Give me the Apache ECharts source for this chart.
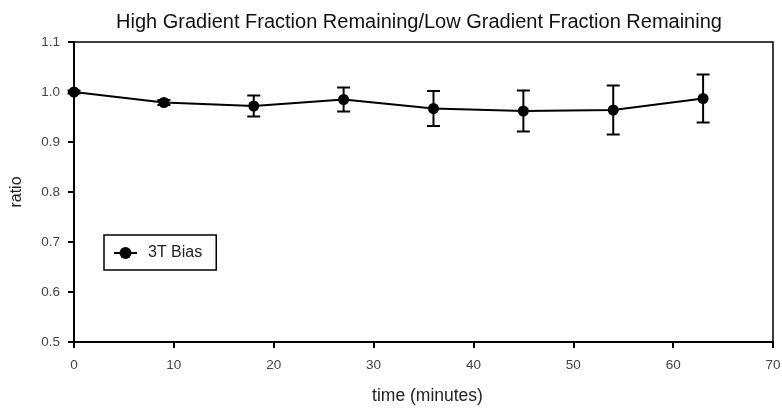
<!DOCTYPE html>
<html>
<head>
<meta charset="utf-8">
<script src="https://cdn.jsdelivr.net/npm/echarts@6/dist/echarts.min.js"></script>
<style>
  html, body { margin: 0; padding: 0; background: #fff; }
  #chart { width: 782px; height: 408px; }
</style>
</head>
<body>
<div id="chart"></div>
<script>
// Sampling times (minutes)
const times = [0, 9, 18, 27, 36, 45, 54, 63];
// High/low gradient fraction remaining ratio
const ratio = [1.000, 0.979, 0.972, 0.985, 0.967, 0.962, 0.964, 0.987];
// Error bar half-widths
const errors = [0.003, 0.005, 0.021, 0.024, 0.035, 0.041, 0.049, 0.048];
const yTicks = [0.5, 0.6, 0.7, 0.8, 0.9, 1.0, 1.1];
const xTicks = [0, 10, 20, 30, 40, 50, 60, 70];

const font = '"Liberation Sans", Arial, sans-serif';

const lineData = times.map((t, i) => [t, ratio[i]]);
const errData = times.map((t, i) => [t, ratio[i] - errors[i], ratio[i] + errors[i]]);

const chart = echarts.init(document.getElementById('chart'), null, { renderer: 'canvas' });
chart.setOption({
  animation: false,
  backgroundColor: '#fff',
  title: {
    text: 'High Gradient Fraction Remaining/Low Gradient Fraction Remaining',
    left: 414, top: 7, textAlign: 'center',
    textStyle: { fontFamily: font, fontSize: 20, fontWeight: 'normal', color: '#111' }
  },
  grid: {
    left: 74, right: 9, top: 42, bottom: 66,
    outerBoundsMode: 'none',
    show: true, borderColor: '#000', borderWidth: 1.5, backgroundColor: 'transparent'
  },
  legend: {
    left: 104, top: 235,
    padding: [10, 14, 9, 9],
    borderColor: '#000', borderWidth: 1.5,
    itemWidth: 23, itemHeight: 15, itemGap: 6,
    data: ['3T Bias'],
    lineStyle: { width: 2, color: '#000' },
    textStyle: { fontFamily: font, fontSize: 16, color: '#222', padding: [0, 0, 0, 6] }
  },
  xAxis: {
    type: 'value', min: xTicks[0], max: xTicks[xTicks.length - 1], interval: 10,
    name: 'time (minutes)', nameLocation: 'middle', nameGap: 45,
    nameTextStyle: { fontFamily: font, fontSize: 17.5, color: '#222', padding: [0, 0, 0, 8] },
    axisLine: { show: true, lineStyle: { color: '#000', width: 2 } },
    axisTick: { show: true, length: 6, lineStyle: { color: '#000', width: 2 } },
    axisLabel: { fontFamily: font, fontSize: 13.5, color: '#444', margin: 16 },
    splitLine: { show: false }
  },
  yAxis: {
    type: 'value', min: yTicks[0], max: yTicks[yTicks.length - 1], interval: 0.1,
    name: 'ratio', nameLocation: 'middle', nameGap: 49, nameRotate: 90,
    nameTextStyle: { fontFamily: font, fontSize: 16, color: '#222' },
    axisLine: { show: true, lineStyle: { color: '#000', width: 2 } },
    axisTick: { show: true, length: 6, lineStyle: { color: '#000', width: 2 } },
    axisLabel: {
      fontFamily: font, fontSize: 13.5, color: '#444', margin: 14,
      formatter: v => v.toFixed(1)
    },
    splitLine: { show: false }
  },
  series: [
    {
      name: '3T Bias', type: 'line', data: lineData,
      symbol: 'circle', symbolSize: 11,
      itemStyle: { color: '#000' },
      lineStyle: { color: '#000', width: 2 },
      z: 3
    },
    {
      type: 'custom', name: 'err', data: errData, z: 2,
      renderItem: function (params, api) {
        const x = api.value(0);
        const lo = api.coord([x, api.value(1)]);
        const hi = api.coord([x, api.value(2)]);
        const hw = 6.5;
        const style = { stroke: '#000', lineWidth: 2 };
        return {
          type: 'group',
          children: [
            { type: 'line', shape: { x1: lo[0], y1: lo[1], x2: hi[0], y2: hi[1] }, style },
            { type: 'line', shape: { x1: hi[0] - hw, y1: hi[1], x2: hi[0] + hw, y2: hi[1] }, style },
            { type: 'line', shape: { x1: lo[0] - hw, y1: lo[1], x2: lo[0] + hw, y2: lo[1] }, style }
          ]
        };
      }
    }
  ]
});
</script>
</body>
</html>
